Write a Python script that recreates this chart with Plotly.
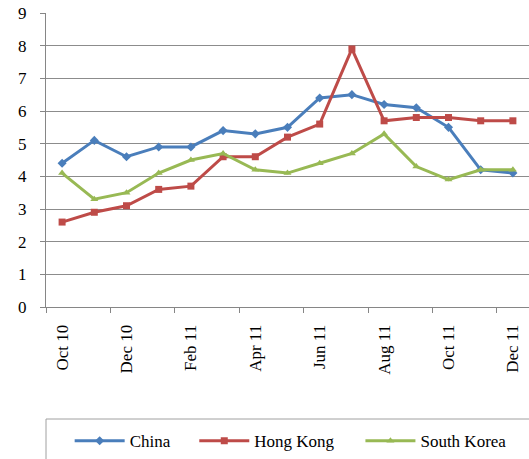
import plotly.graph_objects as go

months = ["Oct 10", "Nov 10", "Dec 10", "Jan 11", "Feb 11", "Mar 11", "Apr 11", "May 11",
          "Jun 11", "Jul 11", "Aug 11", "Sep 11", "Oct 11", "Nov 11", "Dec 11"]
china = [4.4, 5.1, 4.6, 4.9, 4.9, 5.4, 5.3, 5.5, 6.4, 6.5, 6.2, 6.1, 5.5, 4.2, 4.1]
hong_kong = [2.6, 2.9, 3.1, 3.6, 3.7, 4.6, 4.6, 5.2, 5.6, 7.9, 5.7, 5.8, 5.8, 5.7, 5.7]
south_korea = [4.1, 3.3, 3.5, 4.1, 4.5, 4.7, 4.2, 4.1, 4.4, 4.7, 5.3, 4.3, 3.9, 4.2, 4.2]

x = list(range(len(months)))
tick_idx = x[::2]
tick_lbl = months[::2]

font = "'Liberation Serif', 'Times New Roman', Times, serif"
fig = go.Figure()
fig.add_trace(go.Scatter(x=x, y=china, name="China", mode="lines+markers", legend="legend",
                         line=dict(color="#4A7EBB", width=3),
                         marker=dict(symbol="diamond", size=7, color="#4A7EBB")))
fig.add_trace(go.Scatter(x=x, y=hong_kong, name="Hong Kong", mode="lines+markers", legend="legend2",
                         line=dict(color="#BE4B48", width=3),
                         marker=dict(symbol="square", size=7, color="#BE4B48")))
fig.add_trace(go.Scatter(x=x, y=south_korea, name="South Korea", mode="lines+markers", legend="legend3",
                         line=dict(color="#98B954", width=3),
                         marker=dict(symbol="triangle-up", size=7, color="#98B954")))

leg_common = dict(orientation="h", xanchor="left", y=-0.395, yanchor="top",
                  font=dict(family=font, size=17), bgcolor="rgba(0,0,0,0)",
                  itemwidth=50)

fig.update_layout(
    width=529, height=459,
    margin=dict(l=46, r=0, t=13, b=152, autoexpand=False),
    paper_bgcolor="white", plot_bgcolor="white",
    font=dict(family=font, size=17, color="black"),
    showlegend=True,
    legend=dict(x=0.049, **leg_common),
    legend2=dict(x=0.307, **leg_common),
    legend3=dict(x=0.651, **leg_common),
    xaxis=dict(range=[-0.5, 14.5], tickmode="array", tickvals=tick_idx, ticktext=tick_lbl,
               tickangle=-90, ticks="", showgrid=False, zeroline=False, automargin=False,
               showline=True, linecolor="#868686", linewidth=1,
               ticklabelstandoff=10,
               minor=dict(tickmode="array", tickvals=[i - 0.5 for i in tick_idx] + [14.5],
                          ticks="outside", ticklen=5, tickcolor="#868686", showgrid=False)),
    yaxis=dict(range=[0, 9], dtick=1, ticks="outside", ticklen=5, tickcolor="#868686",
               showgrid=True, gridcolor="#8c8c8c", gridwidth=1, zeroline=False, automargin=False,
               showline=True, linecolor="#868686", linewidth=1, ticklabelstandoff=10),
    shapes=[dict(type="rect", xref="paper", yref="paper", x0=0, x1=1.05, y0=-0.381, y1=-0.6,
                 line=dict(color="#a0a0a0", width=1), fillcolor="rgba(0,0,0,0)")],
)
fig.write_html("out.html", post_script="document.body.style.margin='0';",
               config={"displayModeBar": False})
